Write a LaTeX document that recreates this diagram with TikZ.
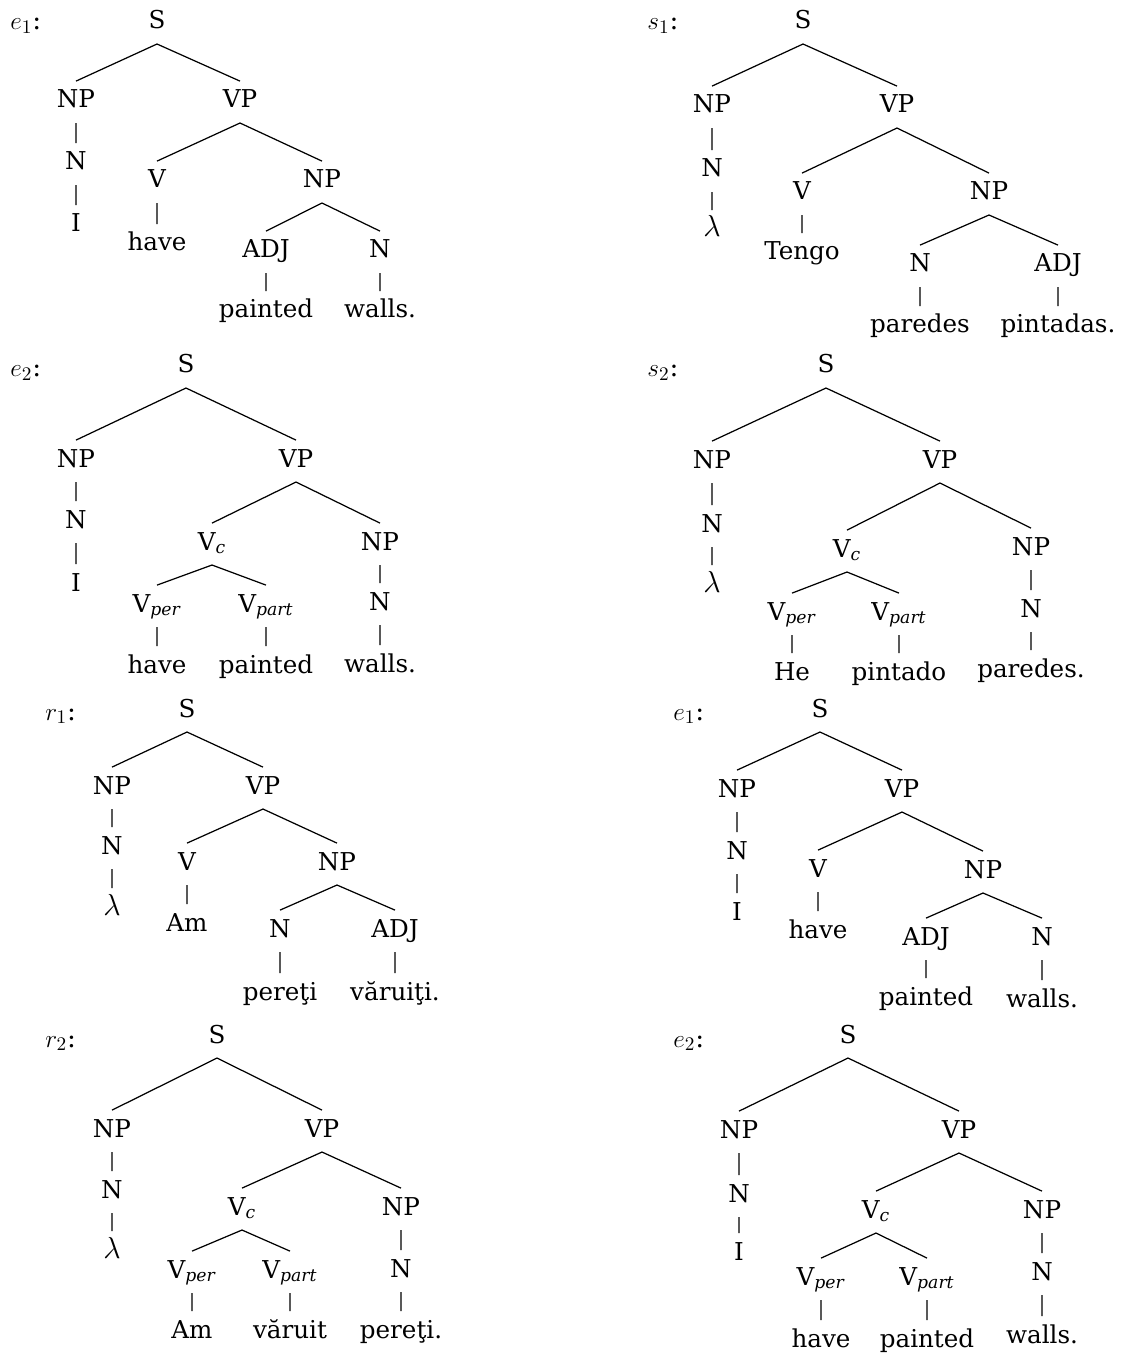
\documentclass[tikz,border=0pt]{standalone}
\usepackage{fontspec}
\setmainfont{DejaVu Serif}
\usepackage{tikz}
\newcommand{\sbx}[1]{\textsubscript{\textit{#1}}}
\newcommand{\lam}{{\fontsize{16pt}{19pt}\selectfont$\lambda$}}

\begin{document}
\begin{tikzpicture}[x=0.02cm, y=-0.02cm,
	tn/.style={anchor=base, inner sep=0pt, outer xsep=0pt, outer ysep=4.8pt,
		text height=10.5pt, text depth=3.75pt, font=\fontsize{14pt}{17pt}\selectfont},
	lab/.style={anchor=base west, inner sep=0pt, font=\fontsize{15pt}{18pt}\selectfont},
	br/.style={line width=0.7pt}]
	\useasboundingbox (0,0) rectangle (1121,1354);

	% e_1 (top left)
	\node[lab] (eaLab) at (10,30) {$e_1$:};
	\node[tn] (eaS) at (157,29) {S};
	\node[tn] (eaNP) at (76,108) {NP};
	\node[tn] (eaVP) at (240,108) {VP};
	\node[tn] (eaN) at (76,170) {N};
	\node[tn] (eaI) at (76,232) {I};
	\node[tn] (eaV) at (157,188) {V};
	\node[tn] (eaHave) at (157,251) {have};
	\node[tn] (eaNPb) at (322,188) {NP};
	\node[tn] (eaADJ) at (266,258) {ADJ};
	\node[tn] (eaNb) at (380,258) {N};
	\node[tn] (eaPainted) at (266,318) {painted};
	\node[tn] (eaWalls) at (380,318) {walls.};
	\draw[br] (eaS.south) -- (eaNP.north) (eaS.south) -- (eaVP.north)
		(eaNP.south) -- (eaN.north) (eaN.south) -- (eaI.north)
		(eaVP.south) -- (eaV.north) (eaVP.south) -- (eaNPb.north)
		(eaV.south) -- (eaHave.north)
		(eaNPb.south) -- (eaADJ.north) (eaNPb.south) -- (eaNb.north)
		(eaADJ.south) -- (eaPainted.north) (eaNb.south) -- (eaWalls.north);

	% s_1 (top right)
	\node[lab] (saLab) at (647,30) {$s_1$:};
	\node[tn] (saS) at (803,29) {S};
	\node[tn] (saNP) at (712,113) {NP};
	\node[tn] (saVP) at (897,113) {VP};
	\node[tn] (saN) at (712,177) {N};
	\node[tn] (saLam) at (712,237) {\lam};
	\node[tn] (saV) at (802,200) {V};
	\node[tn] (saTengo) at (802,260) {Tengo};
	\node[tn] (saNPb) at (989,200) {NP};
	\node[tn] (saNb) at (920,272) {N};
	\node[tn] (saADJ) at (1058,272) {ADJ};
	\node[tn] (saParedes) at (920,333) {paredes};
	\node[tn] (saPintadas) at (1058,333) {pintadas.};
	\draw[br] (saS.south) -- (saNP.north) (saS.south) -- (saVP.north)
		(saNP.south) -- (saN.north) (saN.south) -- (saLam.north)
		(saVP.south) -- (saV.north) (saVP.south) -- (saNPb.north)
		(saV.south) -- (saTengo.north)
		(saNPb.south) -- (saNb.north) (saNPb.south) -- (saADJ.north)
		(saNb.south) -- (saParedes.north) (saADJ.south) -- (saPintadas.north);

	% e_2 (second row left)
	\node[lab] (ebLab) at (10,377) {$e_2$:};
	\node[tn] (ebS) at (186,373) {S};
	\node[tn] (ebNP) at (76,467) {NP};
	\node[tn] (ebVP) at (296,467) {VP};
	\node[tn] (ebN) at (76,528) {N};
	\node[tn] (ebI) at (76,591) {I};
	\node[tn] (ebVc) at (212,550) {V\sbx{c}};
	\node[tn] (ebNPb) at (380,550) {NP};
	\node[tn] (ebVper) at (157,612) {V\sbx{per}};
	\node[tn] (ebVpart) at (266,612) {V\sbx{part}};
	\node[tn] (ebNb) at (380,610) {N};
	\node[tn] (ebHave) at (157,673) {have};
	\node[tn] (ebPainted) at (266,673) {painted};
	\node[tn] (ebWalls) at (380,672) {walls.};
	\draw[br] (ebS.south) -- (ebNP.north) (ebS.south) -- (ebVP.north)
		(ebNP.south) -- (ebN.north) (ebN.south) -- (ebI.north)
		(ebVP.south) -- (ebVc.north) (ebVP.south) -- (ebNPb.north)
		(ebVc.south) -- (ebVper.north) (ebVc.south) -- (ebVpart.north)
		(ebNPb.south) -- (ebNb.north)
		(ebVper.south) -- (ebHave.north) (ebVpart.south) -- (ebPainted.north)
		(ebNb.south) -- (ebWalls.north);

	% s_2 (second row right)
	\node[lab] (sbLab) at (647,377) {$s_2$:};
	\node[tn] (sbS) at (826,373) {S};
	\node[tn] (sbNP) at (712,468) {NP};
	\node[tn] (sbVP) at (940,468) {VP};
	\node[tn] (sbN) at (712,532) {N};
	\node[tn] (sbLam) at (712,592) {\lam};
	\node[tn] (sbVc) at (847,557) {V\sbx{c}};
	\node[tn] (sbNPb) at (1031,555) {NP};
	\node[tn] (sbVper) at (792,620) {V\sbx{per}};
	\node[tn] (sbVpart) at (899,620) {V\sbx{part}};
	\node[tn] (sbNb) at (1031,617) {N};
	\node[tn] (sbHe) at (792,680) {He};
	\node[tn] (sbPintado) at (899,680) {pintado};
	\node[tn] (sbParedes) at (1031,677) {paredes.};
	\draw[br] (sbS.south) -- (sbNP.north) (sbS.south) -- (sbVP.north)
		(sbNP.south) -- (sbN.north) (sbN.south) -- (sbLam.north)
		(sbVP.south) -- (sbVc.north) (sbVP.south) -- (sbNPb.north)
		(sbVc.south) -- (sbVper.north) (sbVc.south) -- (sbVpart.north)
		(sbNPb.south) -- (sbNb.north)
		(sbVper.south) -- (sbHe.north) (sbVpart.south) -- (sbPintado.north)
		(sbNb.south) -- (sbParedes.north);

	% r_1 (third row left)
	\node[lab] (raLab) at (45,720) {$r_1$:};
	\node[tn] (raS) at (187,717) {S};
	\node[tn] (raNP) at (112,794) {NP};
	\node[tn] (raVP) at (263,794) {VP};
	\node[tn] (raN) at (112,854) {N};
	\node[tn] (raLam) at (112,915) {\lam};
	\node[tn] (raV) at (187,870) {V};
	\node[tn] (raAm) at (187,931) {Am};
	\node[tn] (raNPb) at (337,870) {NP};
	\node[tn] (raNb) at (280,937) {N};
	\node[tn] (raADJ) at (395,937) {ADJ};
	\node[tn] (raPereti) at (280,1000) {pereţi};
	\node[tn] (raVaruiti) at (395,1000) {văruiţi.};
	\draw[br] (raS.south) -- (raNP.north) (raS.south) -- (raVP.north)
		(raNP.south) -- (raN.north) (raN.south) -- (raLam.north)
		(raVP.south) -- (raV.north) (raVP.south) -- (raNPb.north)
		(raV.south) -- (raAm.north)
		(raNPb.south) -- (raNb.north) (raNPb.south) -- (raADJ.north)
		(raNb.south) -- (raPereti.north) (raADJ.south) -- (raVaruiti.north);

	% e_1 (third row right)
	\node[lab] (ecLab) at (673,720) {$e_1$:};
	\node[tn] (ecS) at (820,717) {S};
	\node[tn] (ecNP) at (737,797) {NP};
	\node[tn] (ecVP) at (902,797) {VP};
	\node[tn] (ecN) at (737,859) {N};
	\node[tn] (ecI) at (737,920) {I};
	\node[tn] (ecV) at (818,877) {V};
	\node[tn] (ecHave) at (818,938) {have};
	\node[tn] (ecNPb) at (983,878) {NP};
	\node[tn] (ecADJ) at (926,945) {ADJ};
	\node[tn] (ecNb) at (1042,945) {N};
	\node[tn] (ecPainted) at (926,1005) {painted};
	\node[tn] (ecWalls) at (1042,1007) {walls.};
	\draw[br] (ecS.south) -- (ecNP.north) (ecS.south) -- (ecVP.north)
		(ecNP.south) -- (ecN.north) (ecN.south) -- (ecI.north)
		(ecVP.south) -- (ecV.north) (ecVP.south) -- (ecNPb.north)
		(ecV.south) -- (ecHave.north)
		(ecNPb.south) -- (ecADJ.north) (ecNPb.south) -- (ecNb.north)
		(ecADJ.south) -- (ecPainted.north) (ecNb.south) -- (ecWalls.north);

	% r_2 (bottom left)
	\node[lab] (rbLab) at (45,1047) {$r_2$:};
	\node[tn] (rbS) at (217,1043) {S};
	\node[tn] (rbNP) at (112,1137) {NP};
	\node[tn] (rbVP) at (322,1137) {VP};
	\node[tn] (rbN) at (112,1198) {N};
	\node[tn] (rbLam) at (112,1258) {\lam};
	\node[tn] (rbVc) at (242,1215) {V\sbx{c}};
	\node[tn] (rbNPb) at (401,1215) {NP};
	\node[tn] (rbVper) at (192,1278) {V\sbx{per}};
	\node[tn] (rbVpart) at (290,1278) {V\sbx{part}};
	\node[tn] (rbNb) at (401,1277) {N};
	\node[tn] (rbAm) at (192,1338) {Am};
	\node[tn] (rbVaruit) at (290,1338) {văruit};
	\node[tn] (rbPereti) at (401,1338) {pereţi.};
	\draw[br] (rbS.south) -- (rbNP.north) (rbS.south) -- (rbVP.north)
		(rbNP.south) -- (rbN.north) (rbN.south) -- (rbLam.north)
		(rbVP.south) -- (rbVc.north) (rbVP.south) -- (rbNPb.north)
		(rbVc.south) -- (rbVper.north) (rbVc.south) -- (rbVpart.north)
		(rbNPb.south) -- (rbNb.north)
		(rbVper.south) -- (rbAm.north) (rbVpart.south) -- (rbVaruit.north)
		(rbNb.south) -- (rbPereti.north);

	% e_2 (bottom right)
	\node[lab] (edLab) at (673,1047) {$e_2$:};
	\node[tn] (edS) at (848,1043) {S};
	\node[tn] (edNP) at (739,1138) {NP};
	\node[tn] (edVP) at (959,1138) {VP};
	\node[tn] (edN) at (739,1202) {N};
	\node[tn] (edI) at (739,1260) {I};
	\node[tn] (edVc) at (876,1218) {V\sbx{c}};
	\node[tn] (edNPb) at (1042,1218) {NP};
	\node[tn] (edVper) at (821,1285) {V\sbx{per}};
	\node[tn] (edVpart) at (927,1285) {V\sbx{part}};
	\node[tn] (edNb) at (1042,1280) {N};
	\node[tn] (edHave) at (821,1347) {have};
	\node[tn] (edPainted) at (927,1347) {painted};
	\node[tn] (edWalls) at (1042,1343) {walls.};
	\draw[br] (edS.south) -- (edNP.north) (edS.south) -- (edVP.north)
		(edNP.south) -- (edN.north) (edN.south) -- (edI.north)
		(edVP.south) -- (edVc.north) (edVP.south) -- (edNPb.north)
		(edVc.south) -- (edVper.north) (edVc.south) -- (edVpart.north)
		(edNPb.south) -- (edNb.north)
		(edVper.south) -- (edHave.north) (edVpart.south) -- (edPainted.north)
		(edNb.south) -- (edWalls.north);
\end{tikzpicture}
\end{document}
